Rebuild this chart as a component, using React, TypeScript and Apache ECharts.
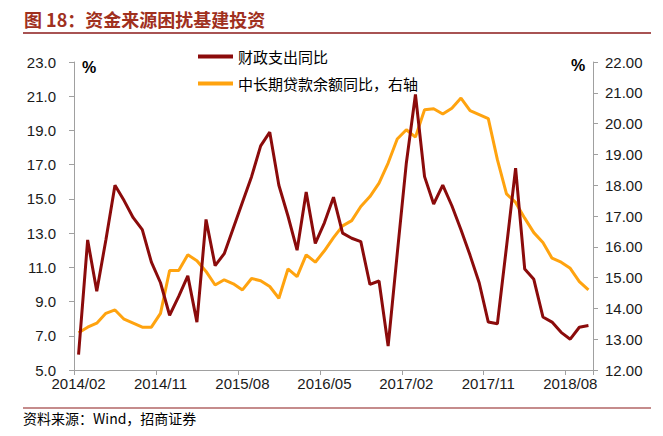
import React, { useEffect, useRef } from "react";
import * as echarts from "echarts";

const categories = [
  "2014/02", "2014/03", "2014/04", "2014/05", "2014/06", "2014/07", "2014/08", "2014/09", "2014/10", "2014/11", "2014/12",
  "2015/01", "2015/02", "2015/03", "2015/04", "2015/05", "2015/06", "2015/07", "2015/08", "2015/09", "2015/10", "2015/11", "2015/12",
  "2016/01", "2016/02", "2016/03", "2016/04", "2016/05", "2016/06", "2016/07", "2016/08", "2016/09", "2016/10", "2016/11", "2016/12",
  "2017/01", "2017/02", "2017/03", "2017/04", "2017/05", "2017/06", "2017/07", "2017/08", "2017/09", "2017/10", "2017/11", "2017/12",
  "2018/01", "2018/02", "2018/03", "2018/04", "2018/05", "2018/06", "2018/07", "2018/08", "2018/09", "2018/10",
];

// 财政支出同比 (left axis, %)
const fiscalSpending = [
  5.9, 12.6, 9.6, 12.6, 15.8, 14.9, 13.9, 13.2, 11.3, 10.1, 8.2,
  9.3, 10.5, 7.8, 13.8, 11.1, 11.8, 13.3, 14.8, 16.3, 18.1, 18.9, 15.8,
  14.0, 12.0, 15.4, 12.4, 13.6, 15.1, 13.0, 12.7, 12.5, 10.0, 10.2, 6.4,
  11.8, 17.1, 21.1, 16.3, 14.7, 15.8, 14.6, 13.2, 11.7, 10.1, 7.8, 7.7,
  12.2, 16.8, 10.9, 10.3, 8.1, 7.8, 7.2, 6.8, 7.5, 7.6,
];

// 中长期贷款余额同比 (right axis, %)
const mltLoans = [
  13.21, 13.39, 13.52, 13.84, 13.95, 13.65, 13.52, 13.39, 13.39, 13.84, 15.23,
  15.23, 15.74, 15.55, 15.2, 14.76, 14.93, 14.8, 14.6, 14.97, 14.9, 14.71, 14.33,
  15.28, 15.03, 15.74, 15.5, 15.87, 16.3, 16.68, 16.85, 17.31, 17.63, 18.07, 18.72,
  19.5, 19.8, 19.56, 20.45, 20.48, 20.31, 20.5, 20.83, 20.42, 20.29, 20.16, 18.83,
  17.72, 17.44, 16.93, 16.46, 16.14, 15.63, 15.5, 15.3, 14.87, 14.6,
];

const leftTicks = [5, 7, 9, 11, 13, 15, 17, 19, 21, 23];
const rightTicks = [12, 13, 14, 15, 16, 17, 18, 19, 20, 21, 22];

const seriesNames = ["财政支出同比", "中长期贷款余额同比，右轴"];
const titleText = "图 18：资金来源困扰基建投资";
const sourceText = "资料来源：Wind，招商证券";

const LATIN = '"Liberation Sans", Arial, sans-serif';
const CJK = '"Noto Sans CJK SC", sans-serif';
const RED = "#8B0B0B";
const ORANGE = "#FFA30F";
const AXIS = "#A0A0A0";

export default function App() {
  const ref = useRef<HTMLDivElement>(null);

  useEffect(() => {
    if (!ref.current) return;
    const chart = echarts.init(ref.current, undefined, { renderer: "svg" });
    chart.setOption({
      animation: false,
      backgroundColor: "#ffffff",
      grid: { left: 74, right: 70, top: 62, bottom: 66, containLabel: false },
      legend: {
        orient: "vertical",
        left: 198,
        top: 49,
        padding: 0,
        itemWidth: 35,
        itemHeight: 4,
        itemGap: 12,
        icon: "rect",
        data: seriesNames,
        textStyle: { fontSize: 15, color: "#000", fontFamily: CJK, lineHeight: 15 },
      },
      xAxis: {
        type: "category",
        data: categories,
        boundaryGap: true,
        axisLine: { show: true, lineStyle: { color: AXIS, width: 1 } },
        axisTick: { show: true, interval: 8, length: 5, lineStyle: { color: AXIS } },
        axisLabel: {
          interval: 8,
          margin: 6,
          fontSize: 15,
          color: "#1a1a1a",
          fontFamily: LATIN,
        },
        splitLine: { show: false },
      },
      yAxis: [
        {
          type: "value",
          min: 5,
          max: 23,
          position: "left",
          axisLine: { show: true, lineStyle: { color: AXIS, width: 1 } },
          axisTick: { show: true, length: 5, customValues: leftTicks, lineStyle: { color: AXIS } },
          axisLabel: {
            customValues: leftTicks,
            formatter: (v: number) => v.toFixed(1),
            margin: 18,
            fontSize: 15,
            color: "#1a1a1a",
            fontFamily: LATIN,
          },
          splitLine: { show: false },
        },
        {
          type: "value",
          min: 12,
          max: 22,
          interval: 1,
          position: "right",
          axisLine: { show: true, lineStyle: { color: AXIS, width: 1 } },
          axisTick: { show: true, length: 5, lineStyle: { color: AXIS } },
          axisLabel: {
            formatter: (v: number) => v.toFixed(2),
            margin: 12,
            fontSize: 15,
            color: "#1a1a1a",
            fontFamily: LATIN,
          },
          splitLine: { show: false },
        },
      ],
      series: [
        {
          name: seriesNames[0],
          type: "line",
          yAxisIndex: 0,
          data: fiscalSpending,
          symbol: "none",
          showSymbol: false,
          z: 3,
          lineStyle: { color: RED, width: 3 },
          itemStyle: { color: RED },
        },
        {
          name: seriesNames[1],
          type: "line",
          yAxisIndex: 1,
          data: mltLoans,
          symbol: "none",
          showSymbol: false,
          z: 2,
          lineStyle: { color: ORANGE, width: 3 },
          itemStyle: { color: ORANGE },
        },
      ],
      graphic: [
        {
          type: "text",
          left: 24,
          top: 10,
          style: { text: titleText, fill: "#A0301E", font: `bold 18px ${CJK}` },
        },
        {
          type: "line",
          shape: { x1: 23, y1: 33, x2: 651, y2: 33 },
          style: { stroke: "#8B1A1A", lineWidth: 1.5 },
        },
        {
          type: "text",
          left: 82,
          top: 59,
          style: { text: "%", fill: "#000", font: `bold 16px ${LATIN}` },
        },
        {
          type: "text",
          left: 571,
          top: 57,
          style: { text: "%", fill: "#000", font: `bold 16px ${LATIN}` },
        },
        {
          type: "line",
          shape: { x1: 23, y1: 408, x2: 651, y2: 408 },
          style: { stroke: "#8B1A1A", lineWidth: 1.2 },
        },
        {
          type: "text",
          left: 23,
          top: 411,
          style: { text: sourceText, fill: "#000", font: `14px ${CJK}` },
        },
      ],
    });
    return () => chart.dispose();
  }, []);

  return (
    <div
      ref={ref}
      style={{ position: "fixed", left: 0, top: 0, width: 663, height: 436, background: "#fff" }}
    />
  );
}
